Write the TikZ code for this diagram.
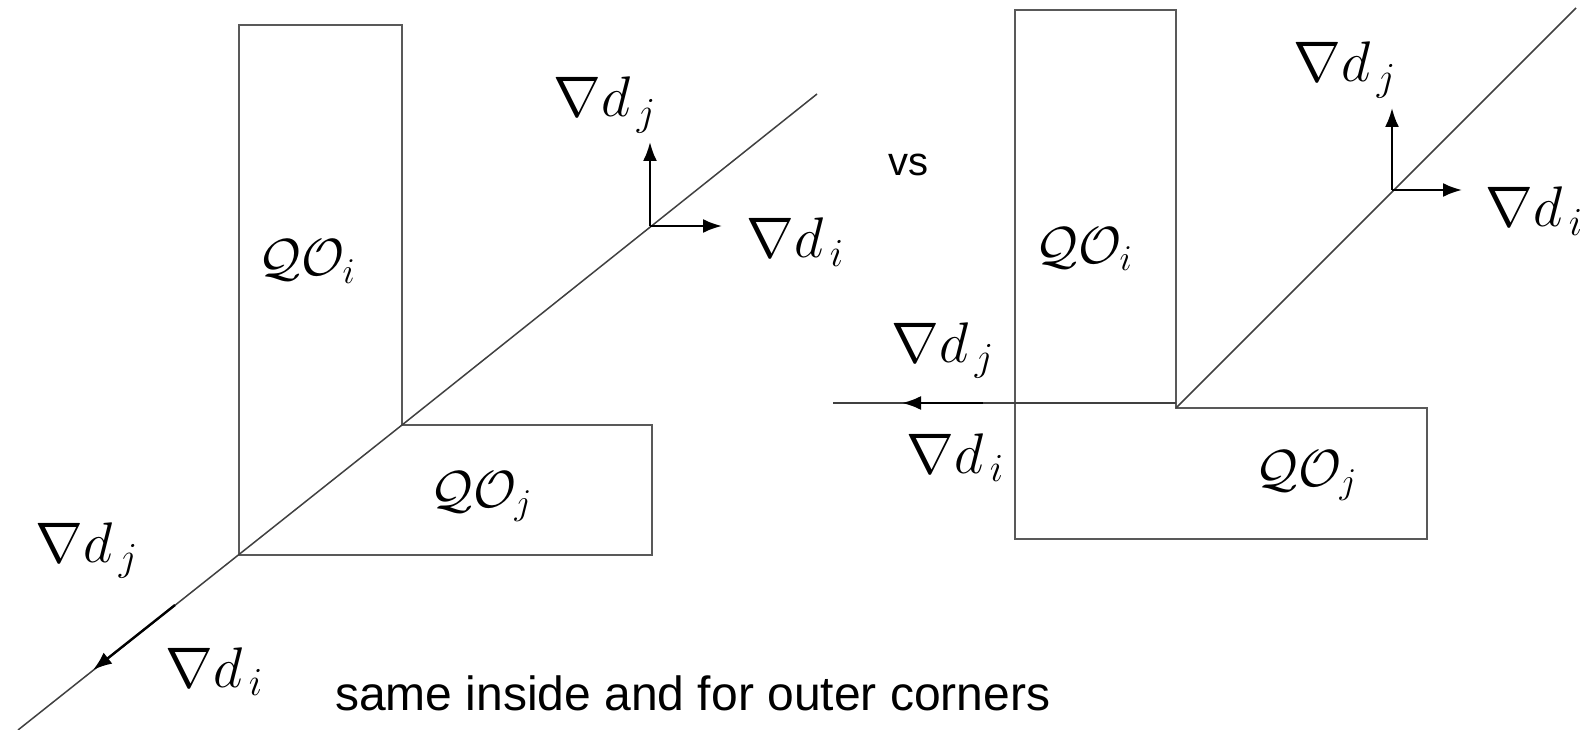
\documentclass[tikz,border=0pt]{standalone}
\usepackage{amsmath, amssymb}
\usepackage{fontspec}
\setsansfont{Liberation Sans}
\usetikzlibrary{arrows.meta, calc, positioning}

\begin{document}
\begin{tikzpicture}[x=1pt, y=-1pt, >={Latex[length=19pt,width=14pt]},
    rim/.style={line width=1.6pt, draw=black!65},
    cut/.style={line width=1.5pt, draw=black!75},
    grad/.style={->, line width=2.4pt},
    lbl/.style={anchor=base west, inner sep=0pt, scale=2.3, font=\fontsize{24}{30}\selectfont},
    obj/.style={anchor=base west, inner sep=0pt, scale=2.1, font=\fontsize{24}{30}\selectfont}]
    \useasboundingbox (0,0) rectangle (1585,730);

    % left: outer corner
    \draw[rim] (239,25) -- (402,25) -- (402,425) -- (652,425) -- (652,555) -- (239,555) -- cycle;
    \coordinate (cL) at (402,425);
    \coordinate (l0) at (18,730);
    \coordinate (l1) at (817,94);
    \draw[cut] (l0) -- (cL) -- (l1);
    \coordinate (oA) at (650,226);
    \coordinate (oAu) at (650,142);
    \coordinate (oAr) at (722,226);
    \draw[grad] (oA) -- (oAu);
    \draw[grad] (oA) -- (oAr);
    \coordinate (oB) at (175,605);
    \coordinate (oBt) at (93,670);
    \draw[grad] (oB) -- (oBt);
    \node[obj] (qoiL) at (258,276) {$\mathcal{Q}\mathcal{O}_i$};
    \node[obj] (qojL) at (430,507) {$\mathcal{Q}\mathcal{O}_j$};
    \node[lbl] (djA) at (553,117) {$\nabla d_{\,j}$};
    \node[lbl] (diA) at (746,258) {$\nabla d_{\,i}$};
    \node[lbl] (djB) at (35,562) {$\nabla d_{\,j}$};
    \node[lbl] (diB) at (165,687) {$\nabla d_{\,i}$};

    % right: inner corner
    \draw[rim] (1015,10) -- (1176,10) -- (1176,408) -- (1427,408) -- (1427,539) -- (1015,539) -- cycle;
    \coordinate (cR) at (1176,408);
    \coordinate (r1) at (1576,8);
    \coordinate (h0) at (833,403);
    \coordinate (h1) at (1176,403);
    \draw[cut] (cR) -- (r1);
    \draw[cut] (h0) -- (h1);
    \coordinate (oC) at (983,403);
    \coordinate (oCt) at (902,403);
    \draw[grad] (oC) -- (oCt);
    \coordinate (oD) at (1392,190);
    \coordinate (oDu) at (1392,108);
    \coordinate (oDr) at (1462,190);
    \draw[grad] (oD) -- (oDu);
    \draw[grad] (oD) -- (oDr);
    \node[obj] (qoiR) at (1035,263) {$\mathcal{Q}\mathcal{O}_i$};
    \node[obj] (qojR) at (1255,486) {$\mathcal{Q}\mathcal{O}_j$};
    \node[lbl] (djD) at (1293,82) {$\nabla d_{\,j}$};
    \node[lbl] (diD) at (1485,227) {$\nabla d_{\,i}$};
    \node[lbl] (djC) at (891,362) {$\nabla d_{\,j}$};
    \node[lbl] (diC) at (906,473) {$\nabla d_{\,i}$};

    \node[font=\sffamily\fontsize{40}{48}\selectfont, inner sep=0pt] (vs) at (908,165) {vs};
    \node[anchor=base west, inner sep=0pt, font=\sffamily\fontsize{48}{58}\selectfont] (note) at (335,710) {same inside and for outer corners};
\end{tikzpicture}
\end{document}
